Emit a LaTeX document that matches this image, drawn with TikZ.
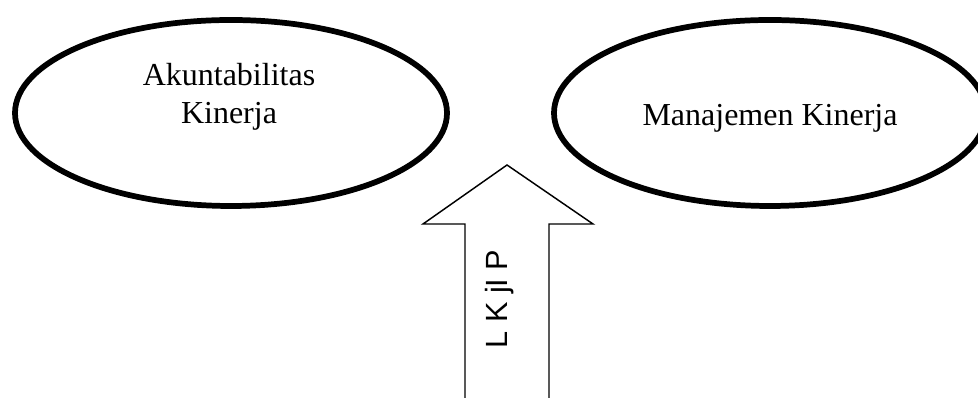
\documentclass[tikz,border=0pt]{standalone}
\usepackage{fontspec}
\setmainfont{Liberation Serif}
\setsansfont{Liberation Sans}
\usetikzlibrary{shapes.geometric,calc}

\begin{document}
\begin{tikzpicture}[x=0.75pt, y=0.75pt]

% Picture frame
\useasboundingbox (0,0) rectangle (978,398);

% Styles
\tikzset{
  oval/.style={ellipse, draw, line width=4.3pt, minimum width=324pt, minimum height=139.5pt, inner sep=0pt},
  label/.style={font=\fontsize{24}{28.5}\selectfont, align=center, inner sep=0pt}
}

% Draw the two ellipses
\node[oval] (akun) at (231, 285) {};
\node[oval] (mana) at (770, 285) {};

% Texts in the ellipses
\node[label] (akuntxt) at ($(akun.center)+(-2,16)$) {Akuntabilitas\\Kinerja};
\node[label] (manatxt) at ($(mana.center)+(0,-5)$) {Manajemen Kinerja};

% Define arrow vertices
\coordinate (T) at (507, 233);
\coordinate (HL) at (423, 174);
\coordinate (HR) at (593, 174);
\coordinate (SL) at (465, 174);
\coordinate (SR) at (549, 174);

% Draw the arrow (shaft runs off the bottom)
\draw[line width=1.1pt, line join=miter] (SL |- 0,-20) -- (SL) -- (HL) -- (T) -- (HR) -- (SR) -- (SR |- 0,-20);

% Text in the arrow
\node[rotate=90, anchor=base, font=\sffamily\fontsize{23}{27}\selectfont, inner sep=0pt] (lkjip) at (507, 99) {L K jI P};

\end{tikzpicture}
\end{document}
